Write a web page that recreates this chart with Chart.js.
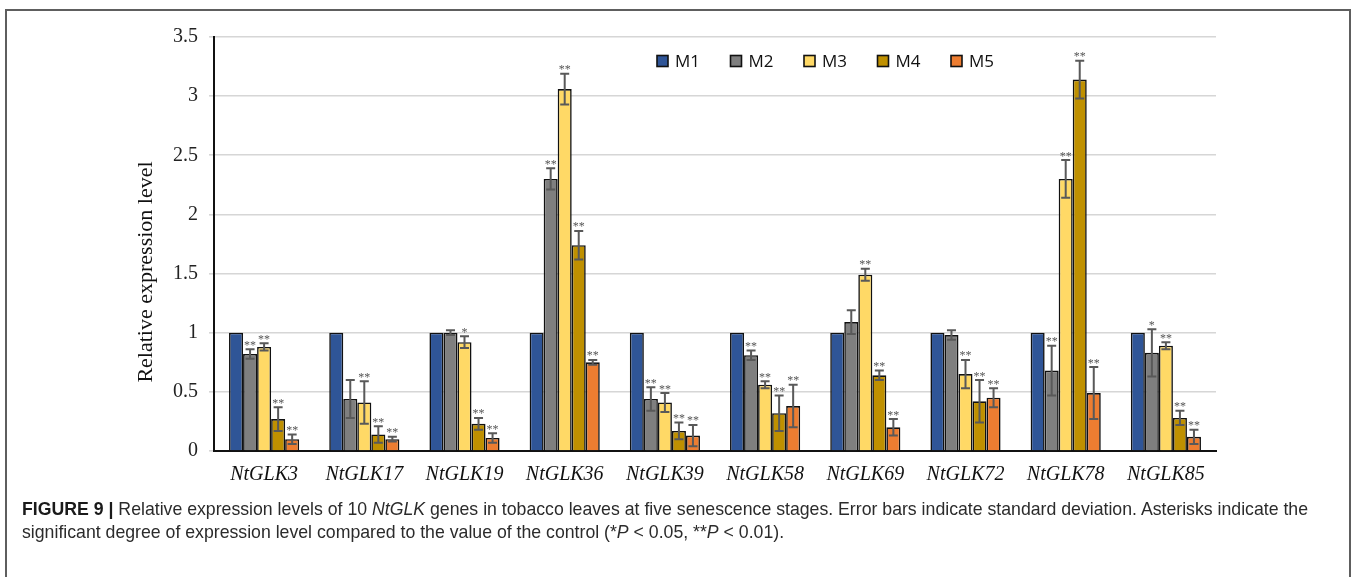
<!DOCTYPE html>
<html>
<head>
<meta charset="utf-8">
<script src="https://cdn.jsdelivr.net/npm/chart.js@4.4.1/dist/chart.umd.min.js"></script>
<style>
  html, body { margin: 0; padding: 0; background: #fff; }
  body { width: 1360px; height: 577px; position: relative; overflow: hidden; }
  #frame { position: absolute; left: 5px; top: 9px; width: 1346px; height: 600px;
           border: 2px solid #5e5e5e; box-sizing: border-box; }
  #wrap { position: absolute; left: 0; top: 0; width: 1360px; height: 495px; }
  #caption { position: absolute; left: 22px; top: 498px; width: 1325px;
             font-family: "Liberation Sans", Arial, sans-serif; font-size: 17.7px;
             line-height: 23px; color: #2b2b2b; white-space: nowrap; }
  #caption b { font-weight: bold; color: #1a1a1a; }
</style>
</head>
<body>
<div id="wrap"><canvas id="c" width="1360" height="495"></canvas></div>
<div id="frame"></div>
<div id="caption"><b>FIGURE 9 |</b> Relative expression levels of 10 <i>NtGLK</i> genes in tobacco leaves at five senescence stages. Error bars indicate standard deviation. Asterisks indicate the<br>significant degree of expression level compared to the value of the control (*<i>P</i> &lt; 0.05, **<i>P</i> &lt; 0.01).</div>
<script>
// Genes and senescence stages
const genes = ['NtGLK3', 'NtGLK17', 'NtGLK19', 'NtGLK36', 'NtGLK39', 'NtGLK58', 'NtGLK69', 'NtGLK72', 'NtGLK78', 'NtGLK85'];
const stages = ['M1', 'M2', 'M3', 'M4', 'M5'];

// Mean relative expression per stage
const m1 = [1, 1, 1, 1, 1, 1, 1, 1, 1, 1];
const m2 = [0.82, 0.44, 1.00, 2.30, 0.44, 0.81, 1.09, 0.98, 0.68, 0.83];
const m3 = [0.88, 0.41, 0.92, 3.06, 0.41, 0.56, 1.49, 0.65, 2.30, 0.89];
const m4 = [0.27, 0.14, 0.23, 1.74, 0.17, 0.32, 0.64, 0.42, 3.14, 0.28];
const m5 = [0.10, 0.10, 0.11, 0.75, 0.13, 0.38, 0.20, 0.45, 0.49, 0.12];

// Standard deviations
const sd1 = [0, 0, 0, 0, 0, 0, 0, 0, 0, 0];
const sd2 = [0.04, 0.16, 0.02, 0.09, 0.10, 0.04, 0.10, 0.04, 0.21, 0.20];
const sd3 = [0.03, 0.18, 0.05, 0.13, 0.08, 0.03, 0.05, 0.12, 0.16, 0.03];
const sd4 = [0.10, 0.07, 0.05, 0.12, 0.07, 0.15, 0.04, 0.18, 0.16, 0.06];
const sd5 = [0.04, 0.02, 0.04, 0.02, 0.09, 0.18, 0.07, 0.08, 0.22, 0.06];

// Significance marks versus control
const sig1 = ['', '', '', '', '', '', '', '', '', ''];
const sig2 = ['**', '', '', '**', '**', '**', '', '', '**', '*'];
const sig3 = ['**', '**', '*', '**', '**', '**', '**', '**', '**', '**'];
const sig4 = ['**', '**', '**', '**', '**', '**', '**', '**', '**', '**'];
const sig5 = ['**', '**', '**', '**', '**', '**', '**', '**', '**', '**'];

// Y-axis ticks
const yTicks = [0, 0.5, 1, 1.5, 2, 2.5, 3, 3.5];
const yTitle = 'Relative expression level';

const colors = ['#2f5597', '#7f7f7f', '#ffd966', '#bf9000', '#ed7d31'];
const means = [m1, m2, m3, m4, m5];
const sds = [sd1, sd2, sd3, sd4, sd5];
const sigs = [sig1, sig2, sig3, sig4, sig5];

const datasets = stages.map((s, i) => ({
  label: s,
  data: means[i],
  sd: sds[i],
  sig: sigs[i],
  backgroundColor: colors[i],
  borderColor: '#111',
  borderWidth: 1.6,
  borderSkipped: 'bottom',
  categoryPercentage: 0.7,
  barPercentage: 1.0
}));

// Error bars and significance asterisks on top of each bar
const errorBars = {
  id: 'errorBars',
  afterDatasetsDraw(chart) {
    const ctx = chart.ctx;
    const y = chart.scales.y;
    ctx.save();
    chart.data.datasets.forEach((ds, di) => {
      const meta = chart.getDatasetMeta(di);
      meta.data.forEach((bar, i) => {
        const v = ds.data[i], e = ds.sd[i];
        let topPx = y.getPixelForValue(v);
        if (e > 0) {
          const hi = y.getPixelForValue(v + e);
          const lo = y.getPixelForValue(v - e);
          ctx.strokeStyle = '#595959';
          ctx.lineWidth = 2;
          ctx.beginPath();
          ctx.moveTo(bar.x, hi); ctx.lineTo(bar.x, lo);
          ctx.moveTo(bar.x - 4.5, hi); ctx.lineTo(bar.x + 4.5, hi);
          ctx.moveTo(bar.x - 4.5, lo); ctx.lineTo(bar.x + 4.5, lo);
          ctx.stroke();
          topPx = hi;
        }
        const s = ds.sig[i];
        if (s) {
          ctx.fillStyle = '#555';
          ctx.font = '12px "Liberation Serif", serif';
          ctx.textAlign = 'center';
          ctx.textBaseline = 'alphabetic';
          ctx.fillText(s, bar.x, topPx - 0.5);
        }
      });
    });
    ctx.restore();
  }
};

// Legend row inside the plot area and the rotated y-axis title
const decorations = {
  id: 'decorations',
  afterDraw(chart) {
    const ctx = chart.ctx;
    ctx.save();
    const x0 = 657, yc = 61, step = 73.5, box = 11;
    chart.data.datasets.forEach((ds, i) => {
      const x = x0 + i * step;
      ctx.fillStyle = ds.backgroundColor;
      ctx.fillRect(x, yc - box / 2, box, box);
      ctx.strokeStyle = '#111';
      ctx.lineWidth = 1.6;
      ctx.strokeRect(x, yc - box / 2, box, box);
      ctx.fillStyle = '#111';
      ctx.font = '17px "Open Sans", sans-serif';
      ctx.textAlign = 'left';
      ctx.textBaseline = 'middle';
      ctx.fillText(ds.label, x + 18, yc + 1);
    });
    ctx.translate(146, 272);
    ctx.rotate(-Math.PI / 2);
    ctx.fillStyle = '#111';
    ctx.font = '22px "Liberation Serif", serif';
    ctx.textAlign = 'center';
    ctx.textBaseline = 'middle';
    ctx.fillText(yTitle, 0, 0);
    ctx.restore();
  }
};

new Chart(document.getElementById('c'), {
  type: 'bar',
  data: { labels: genes, datasets },
  plugins: [errorBars, decorations],
  options: {
    responsive: false,
    devicePixelRatio: 1,
    animation: false,
    layout: { padding: { left: 124, right: 144, top: 37, bottom: 0 } },
    plugins: { legend: { display: false }, tooltip: { enabled: false } },
    scales: {
      x: {
        grid: { display: false, drawTicks: false },
        border: { color: '#111', width: 2 },
        ticks: {
          color: '#111',
          padding: 12,
          font: { family: '"Liberation Serif", serif', size: 20, style: 'italic' }
        },
        afterFit(scale) { scale.height = 495 - 451; }
      },
      y: {
        min: 0,
        max: 3.5,
        afterBuildTicks(scale) { scale.ticks = yTicks.map(v => ({ value: v })); },
        grid: {
          color: '#d6d6d6',
          lineWidth: 1.6,
          tickLength: 5,
          tickColor: '#d6d6d6'
        },
        border: { color: '#111', width: 2 },
        ticks: {
          color: '#222',
          padding: 11,
          callback: v => String(v),
          font: { family: '"Liberation Serif", serif', size: 20 }
        },
        afterFit(scale) { scale.width = 214 - 124; }
      }
    }
  }
});
</script>
</body>
</html>
